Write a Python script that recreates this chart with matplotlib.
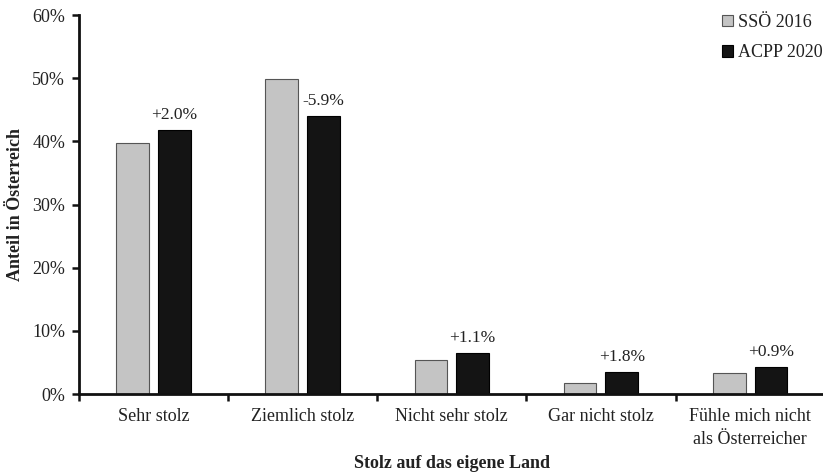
import matplotlib
matplotlib.use("Agg")
import matplotlib.pyplot as plt
import numpy as np
from matplotlib.ticker import FuncFormatter, FixedLocator

categories = ["Sehr stolz", "Ziemlich stolz", "Nicht sehr stolz", "Gar nicht stolz",
              "Fühle mich nicht\nals Österreicher"]
sso_2016 = [39.8, 49.9, 5.4, 1.7, 3.4]
acpp_2020 = [41.8, 44.0, 6.5, 3.5, 4.3]
diff_labels = ["+2.0%", "-5.9%", "+1.1%", "+1.8%", "+0.9%"]
yticks = [0, 10, 20, 30, 40, 50, 60]

plt.rcParams['font.family'] = ['Liberation Serif', 'DejaVu Serif']
txt = '#222222'
fs = 13

fig = plt.figure(figsize=(8.23, 4.73), dpi=100)
ax = fig.add_axes([0.096, 0.167, 0.906, 0.801])

x = np.arange(len(categories))
w = 0.22
off = 0.14
ax.bar(x - off, sso_2016, w, color='#c4c4c4', edgecolor='#555555', linewidth=0.8, label='SSÖ 2016')
ax.bar(x + off, acpp_2020, w, color='#141414', edgecolor='#000000', linewidth=0.8, label='ACPP 2020')

for xi, v, lab in zip(x, acpp_2020, diff_labels):
    ax.annotate(lab, (xi + off, v), xytext=(0, 5), textcoords='offset points',
                ha='center', va='bottom', fontsize=12.5, color=txt)

ax.set_xlim(-0.5, len(categories) - 0.5)
ax.set_ylim(0, 60)
ax.set_yticks(yticks)
ax.yaxis.set_major_formatter(FuncFormatter(lambda v, p: f"{int(v)}%"))

ax.xaxis.set_major_locator(FixedLocator(np.arange(-0.5, len(categories), 1.0)))
ax.xaxis.set_minor_locator(FixedLocator(x))
ax.set_xticklabels([''] * len(ax.get_xticks()))
ax.set_xticklabels(categories, minor=True, linespacing=1.45)
ax.tick_params(axis='x', which='minor', length=0, pad=10, labelsize=fs, labelcolor=txt)
ax.tick_params(axis='x', which='major', length=5, width=1.8, direction='out', color='#111111')
ax.tick_params(axis='y', length=5, width=1.8, direction='out', labelsize=fs, labelcolor=txt, pad=5,
               color='#111111')

for s in ['top', 'right']:
    ax.spines[s].set_visible(False)
for s in ['left', 'bottom']:
    ax.spines[s].set_linewidth(2.0)
    ax.spines[s].set_color('#111111')

ax.set_ylabel('Anteil in Österreich', fontsize=fs, fontweight='bold', color=txt, labelpad=6)
ax.set_xlabel('Stolz auf das eigene Land', fontsize=fs, fontweight='bold', color=txt, labelpad=5.5)

leg = ax.legend(loc='upper left', bbox_to_anchor=(0.862, 1.004), frameon=False, fontsize=fs,
                handlelength=0.6, handleheight=0.6, handletextpad=0.3, labelspacing=0.75,
                borderaxespad=0.0, borderpad=0.0)
for t in leg.get_texts():
    t.set_color(txt)

fig.savefig('out.png', dpi=100)
